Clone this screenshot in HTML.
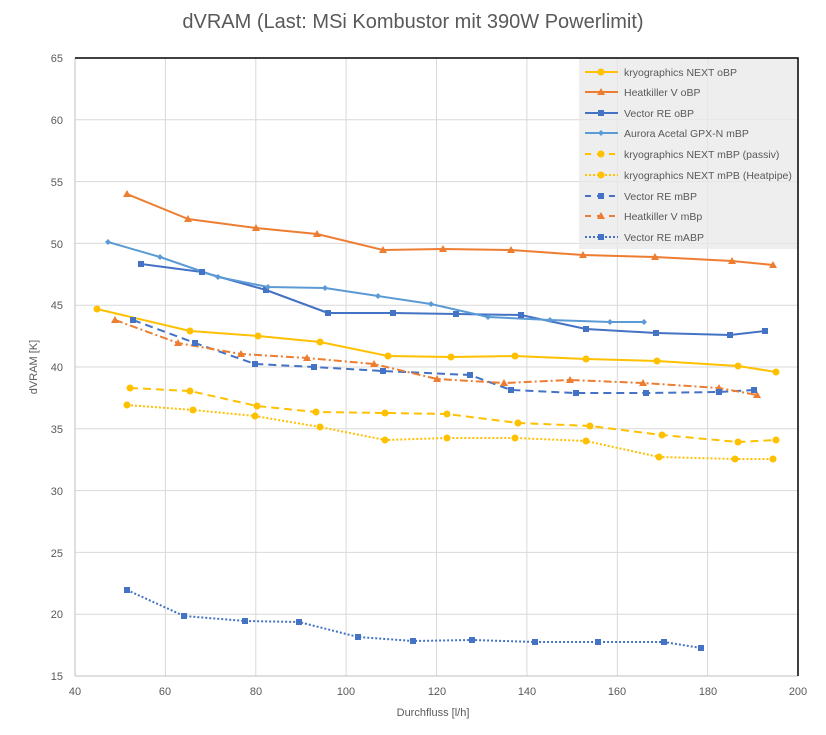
<!DOCTYPE html>
<html><head><meta charset="utf-8"><style>
body{margin:0;background:#fff;}
svg text{font-family:"Liberation Sans",sans-serif;fill:#595959;}
</style></head><body>
<svg width="826" height="730" xmlns="http://www.w3.org/2000/svg">
<text x="413" y="28" font-size="20" text-anchor="middle">dVRAM (Last: MSi Kombustor mit 390W Powerlimit)</text>
<g stroke="#d9d9d9" stroke-width="1">
<line x1="75" y1="119.8" x2="798" y2="119.8"/>
<line x1="75" y1="181.6" x2="798" y2="181.6"/><line x1="75" y1="243.4" x2="798" y2="243.4"/>
<line x1="75" y1="305.2" x2="798" y2="305.2"/><line x1="75" y1="367" x2="798" y2="367"/>
<line x1="75" y1="428.8" x2="798" y2="428.8"/><line x1="75" y1="490.6" x2="798" y2="490.6"/>
<line x1="75" y1="552.4" x2="798" y2="552.4"/><line x1="75" y1="614.2" x2="798" y2="614.2"/>
<line x1="165.4" y1="58" x2="165.4" y2="676"/><line x1="255.8" y1="58" x2="255.8" y2="676"/>
<line x1="346.1" y1="58" x2="346.1" y2="676"/><line x1="436.5" y1="58" x2="436.5" y2="676"/>
<line x1="526.9" y1="58" x2="526.9" y2="676"/><line x1="617.3" y1="58" x2="617.3" y2="676"/>
<line x1="707.6" y1="58" x2="707.6" y2="676"/>
<line x1="75" y1="58" x2="75" y2="676" stroke="#bfbfbf"/>
<line x1="75" y1="676" x2="798" y2="676" stroke="#bfbfbf"/>
</g>
<rect x="579" y="58" width="219" height="191" fill="rgba(232,232,232,0.75)"/>
<polyline points="75,58 798,58 798,676" fill="none" stroke="#000" stroke-width="1.5"/>
<g font-size="11" text-anchor="end">
<text x="63" y="62">65</text><text x="63" y="124">60</text><text x="63" y="186">55</text><text x="63" y="248">50</text>
<text x="63" y="309">45</text><text x="63" y="371">40</text><text x="63" y="433">35</text><text x="63" y="495">30</text>
<text x="63" y="557">25</text><text x="63" y="618">20</text><text x="63" y="680">15</text>
</g>
<g font-size="11" text-anchor="middle">
<text x="75" y="695">40</text><text x="165" y="695">60</text><text x="256" y="695">80</text><text x="346" y="695">100</text>
<text x="437" y="695">120</text><text x="527" y="695">140</text><text x="617" y="695">160</text><text x="708" y="695">180</text><text x="798" y="695">200</text>
<text x="433" y="716" font-size="11">Durchfluss [l/h]</text>
</g>
<text transform="translate(37,367) rotate(-90)" font-size="11" text-anchor="middle">dVRAM [K]</text>

<g fill="none" stroke-width="2" stroke-linejoin="round">
<polyline stroke="#FFC000" points="97,309 190,331 258,336 320,342 388,356 451,357 515,356 586,359 657,361 738,366 776,372"/>
<polyline stroke="#ED7D31" points="127,194 188,219 256,228 317,234 383,250 443,249 511,250 583,255 655,257 732,261 773,265"/>
<polyline stroke="#4472C4" points="141,264 202,272 266,290 328,313 393,313 456,314 521,315 586,329 656,333 730,335 765,331"/>
<polyline stroke="#5B9BD5" points="108,242 160,257 218,277 268,287 325,288 378,296 431,304 488,317 550,320 610,322 644,322"/>
<polyline stroke="#FFC000" stroke-dasharray="8,5" points="130,388 190,391 257,406 316,412 385,413 447,414 518,423 590,426 662,435 738,442 776,440"/>
<polyline stroke="#FFC000" stroke-dasharray="2,2" points="127,405 193,410 255,416 320,427 385,440 447,438 515,438 586,441 659,457 735,459 773,459"/>
<polyline stroke="#4472C4" stroke-dasharray="8,5" points="133,320 195,343 255,364 314,367 383,371 470,375 511,390 576,393 646,393 719,392 754,390"/>
<polyline stroke="#ED7D31" stroke-dasharray="8,3,2,3" points="115,320 178,343 241,354 307,358 374,364 437,379 504,383 570,380 643,383 719,388 757,395"/>
<polyline stroke="#4472C4" stroke-dasharray="2,2" points="127,590 184,616 245,621 299,622 358,637 413,641 472,640 535,642 598,642 664,642 701,648"/>
</g>
<g fill="#FFC000">
<circle cx="97" cy="309" r="3.5"/><circle cx="190" cy="331" r="3.5"/><circle cx="258" cy="336" r="3.5"/><circle cx="320" cy="342" r="3.5"/><circle cx="388" cy="356" r="3.5"/><circle cx="451" cy="357" r="3.5"/><circle cx="515" cy="356" r="3.5"/><circle cx="586" cy="359" r="3.5"/><circle cx="657" cy="361" r="3.5"/><circle cx="738" cy="366" r="3.5"/><circle cx="776" cy="372" r="3.5"/>
<circle cx="130" cy="388" r="3.5"/><circle cx="190" cy="391" r="3.5"/><circle cx="257" cy="406" r="3.5"/><circle cx="316" cy="412" r="3.5"/><circle cx="385" cy="413" r="3.5"/><circle cx="447" cy="414" r="3.5"/><circle cx="518" cy="423" r="3.5"/><circle cx="590" cy="426" r="3.5"/><circle cx="662" cy="435" r="3.5"/><circle cx="738" cy="442" r="3.5"/><circle cx="776" cy="440" r="3.5"/>
<circle cx="127" cy="405" r="3.5"/><circle cx="193" cy="410" r="3.5"/><circle cx="255" cy="416" r="3.5"/><circle cx="320" cy="427" r="3.5"/><circle cx="385" cy="440" r="3.5"/><circle cx="447" cy="438" r="3.5"/><circle cx="515" cy="438" r="3.5"/><circle cx="586" cy="441" r="3.5"/><circle cx="659" cy="457" r="3.5"/><circle cx="735" cy="459" r="3.5"/><circle cx="773" cy="459" r="3.5"/>
</g>
<g fill="#ED7D31">
<path d="M127 190l4 7h-8zM188 215l4 7h-8zM256 224l4 7h-8zM317 230l4 7h-8zM383 246l4 7h-8zM443 245l4 7h-8zM511 246l4 7h-8zM583 251l4 7h-8zM655 253l4 7h-8zM732 257l4 7h-8zM773 261l4 7h-8z"/>
<path d="M115 316l4 7h-8zM178 339l4 7h-8zM241 350l4 7h-8zM307 354l4 7h-8zM374 360l4 7h-8zM437 375l4 7h-8zM504 379l4 7h-8zM570 376l4 7h-8zM643 379l4 7h-8zM719 384l4 7h-8zM757 391l4 7h-8z"/>
</g>
<g fill="#4472C4">
<path d="M138 261h6v6h-6zM199 269h6v6h-6zM263 287h6v6h-6zM325 310h6v6h-6zM390 310h6v6h-6zM453 311h6v6h-6zM518 312h6v6h-6zM583 326h6v6h-6zM653 330h6v6h-6zM727 332h6v6h-6zM762 328h6v6h-6z"/>
<path d="M130 317h6v6h-6zM192 340h6v6h-6zM252 361h6v6h-6zM311 364h6v6h-6zM380 368h6v6h-6zM467 372h6v6h-6zM508 387h6v6h-6zM573 390h6v6h-6zM643 390h6v6h-6zM716 389h6v6h-6zM751 387h6v6h-6z"/>
<path d="M124 587h6v6h-6zM181 613h6v6h-6zM242 618h6v6h-6zM296 619h6v6h-6zM355 634h6v6h-6zM410 638h6v6h-6zM469 637h6v6h-6zM532 639h6v6h-6zM595 639h6v6h-6zM661 639h6v6h-6zM698 645h6v6h-6z"/>
</g>
<g fill="#5B9BD5">
<path d="M108 239l3 3-3 3-3-3zM160 254l3 3-3 3-3-3zM218 274l3 3-3 3-3-3zM268 284l3 3-3 3-3-3zM325 285l3 3-3 3-3-3zM378 293l3 3-3 3-3-3zM431 301l3 3-3 3-3-3zM488 314l3 3-3 3-3-3zM550 317l3 3-3 3-3-3zM610 319l3 3-3 3-3-3zM644 319l3 3-3 3-3-3z"/>
</g>

<g stroke-width="2" fill="none">
<line x1="585" y1="72" x2="618" y2="72" stroke="#FFC000"/>
<line x1="585" y1="92" x2="618" y2="92" stroke="#ED7D31"/>
<line x1="585" y1="113" x2="618" y2="113" stroke="#4472C4"/>
<line x1="585" y1="133" x2="618" y2="133" stroke="#5B9BD5"/>
<line x1="585" y1="154" x2="618" y2="154" stroke="#FFC000" stroke-dasharray="6,6"/>
<line x1="585" y1="175" x2="618" y2="175" stroke="#FFC000" stroke-dasharray="2,2"/>
<line x1="585" y1="196" x2="618" y2="196" stroke="#4472C4" stroke-dasharray="6,6"/>
<line x1="585" y1="216" x2="618" y2="216" stroke="#ED7D31" stroke-dasharray="6,6"/>
<line x1="585" y1="237" x2="618" y2="237" stroke="#4472C4" stroke-dasharray="2,2"/>
</g>
<circle cx="601" cy="72" r="3.5" fill="#FFC000"/>
<path d="M601 88l4 7h-8z" fill="#ED7D31"/>
<rect x="598" y="110" width="6" height="6" fill="#4472C4"/>
<path d="M601 130l3 3-3 3-3-3z" fill="#5B9BD5"/>
<circle cx="601" cy="154" r="3.5" fill="#FFC000"/>
<circle cx="601" cy="175" r="3.5" fill="#FFC000"/>
<rect x="598" y="193" width="6" height="6" fill="#4472C4"/>
<path d="M601 212l4 7h-8z" fill="#ED7D31"/>
<rect x="598" y="234" width="6" height="6" fill="#4472C4"/>
<g font-size="10.5">
<text x="624" y="76">kryographics NEXT oBP</text>
<text x="624" y="96">Heatkiller V oBP</text>
<text x="624" y="117">Vector RE oBP</text>
<text x="624" y="137">Aurora Acetal GPX-N mBP</text>
<text x="624" y="158">kryographics NEXT mBP (passiv)</text>
<text x="624" y="179">kryographics NEXT mPB (Heatpipe)</text>
<text x="624" y="200">Vector RE mBP</text>
<text x="624" y="220">Heatkiller V mBp</text>
<text x="624" y="241">Vector RE mABP</text>
</g>
</svg>
</body></html>
